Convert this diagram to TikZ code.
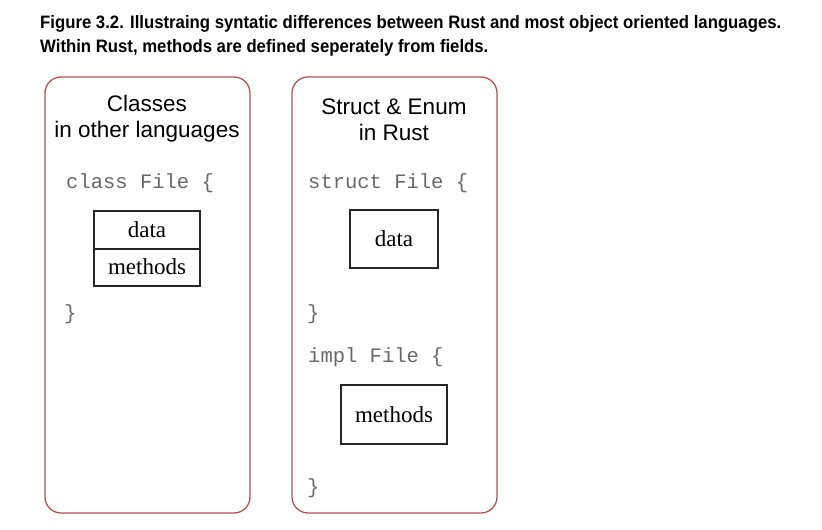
\documentclass[tikz,border=0pt]{standalone}
\usepackage{fontspec}
\setmainfont{Liberation Serif}
\newfontfamily\headfont{Liberation Sans}
\newfontfamily\titlefont[FakeStretch=0.93]{Liberation Sans Bold}
\newfontfamily\codefont{Liberation Mono}
\definecolor{frame}{HTML}{B5524F}
\definecolor{codegray}{HTML}{686868}
\tikzset{
  panel/.style={draw=frame, line width=1.3pt, rounded corners=16pt},
  head/.style={font=\headfont\fontsize{22.5}{26}\selectfont, align=center, inner sep=0pt},
  code/.style={font=\codefont\fontsize{20.5}{24}\selectfont, text=codegray, anchor=west, inner sep=0pt},
  serif/.style={font=\fontsize{23}{26}\selectfont, inner sep=0pt},
  databox/.style={draw=black!85, line width=1.2pt, font=\fontsize{23}{26}\selectfont, inner sep=0pt},
  titletext/.style={font=\titlefont\fontsize{18}{22}\selectfont, anchor=base west, inner sep=0pt}
}
\begin{document}
\begin{tikzpicture}[x=1pt,y=-1pt]
\useasboundingbox (0,0) rectangle (822,530);
\node[titletext] (t1) at (40,28) {Figure 3.2. Illustraing syntatic differences between Rust and most object oriented languages.};
\node[titletext] (t2) at (40,52) {Within Rust, methods are defined seperately from fields.};
% left panel
\draw[panel] (45,77) rectangle (250,513);
\node[head] (lh) at (147,118.5) {Classes\\in other languages};
\node[code] (lc) at (66,183) {class File \{};
\draw[databox] (94,211) rectangle (200,286);
\draw[databox] (94,249) -- (200,249);
\node[serif] (ld) at (147,230) {data};
\node[serif] (lm) at (147,267) {methods};
\node[code] (lb) at (64,314) {\}};
% right panel
\draw[panel] (292,77) rectangle (497,513);
\node[head] (rh) at (394,119.5) {Struct \& Enum\\in Rust};
\node[code] (rc) at (308,183) {struct File \{};
\node[databox, minimum width=88pt, minimum height=58pt] (rd) at (394,239) {data};
\node[code] (rb1) at (307,314) {\}};
\node[code] (ri) at (308,357) {impl File \{};
\node[databox, minimum width=106pt, minimum height=59pt] (rm) at (394,414.5) {methods};
\node[code] (rb2) at (307,488) {\}};
\end{tikzpicture}
\end{document}
